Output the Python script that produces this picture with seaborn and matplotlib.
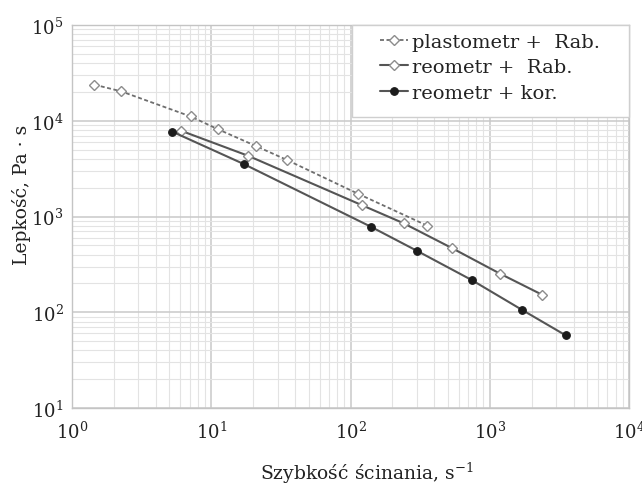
import matplotlib
matplotlib.use("Agg")
import matplotlib.pyplot as plt
import seaborn as sns
import numpy as np
from matplotlib.ticker import LogLocator, NullFormatter, LogFormatterMathtext
from matplotlib.patches import Rectangle

# ---- data ----
series_labels = ["plastometr +  Rab.", "reometr +  Rab.", "reometr + kor."]

shear_plast = [1.45, 2.25, 7.1, 11.2, 20.9, 35.0, 113.0, 356.0]
visc_plast = [23800, 20300, 11100, 8140, 5450, 3890, 1730, 802]

shear_reo_rab = [6.06, 18.3, 120.0, 241.0, 538.0, 1185.0, 2385.0]
visc_reo_rab = [7870, 4320, 1318, 849, 466, 253, 152]

shear_reo_kor = [5.25, 17.1, 140.0, 302.0, 742.0, 1713.0, 3510.0]
visc_reo_kor = [7690, 3535, 782, 436, 217, 105.5, 57.4]

x_label = "Szybkość ścinania, s$^{-1}$"
y_label = "Lepkość, Pa · s"

# ---- style ----
sns.set_theme(style="white")
plt.rcParams["font.family"] = ["DejaVu Serif", "DejaVu Sans"]
plt.rcParams["mathtext.fontset"] = "dejavuserif"

W, H = 642, 485
fig = plt.figure(figsize=(W / 100, H / 100), dpi=100)
ax_l, ax_r, ax_t, ax_b = 72, 629, 26, 409
ax = fig.add_axes([ax_l / W, 1 - ax_b / H, (ax_r - ax_l) / W, (ax_b - ax_t) / H])

line_dark = "#555555"
line_dash = "#6e6e6e"
diamond_edge = "#8c8c8c"

sns.lineplot(x=shear_plast, y=visc_plast, ax=ax, estimator=None, sort=False,
             color=line_dash, linewidth=1.3, linestyle=(0, (2.2, 1.4)),
             marker="D", markersize=5.2, markerfacecolor="white",
             markeredgecolor=diamond_edge, markeredgewidth=1.0,
             label=series_labels[0])
sns.lineplot(x=shear_reo_rab, y=visc_reo_rab, ax=ax, estimator=None, sort=False,
             color=line_dark, linewidth=1.5,
             marker="D", markersize=5.2, markerfacecolor="white",
             markeredgecolor=diamond_edge, markeredgewidth=1.0,
             label=series_labels[1])
sns.lineplot(x=shear_reo_kor, y=visc_reo_kor, ax=ax, estimator=None, sort=False,
             color=line_dark, linewidth=1.5,
             marker="o", markersize=5.5, markerfacecolor="#1c1c1c",
             markeredgecolor="#1c1c1c", markeredgewidth=0.8,
             label=series_labels[2])

ax.set_xscale("log")
ax.set_yscale("log")
ax.set_xlim(1, 1e4)
ax.set_ylim(10, 1e5)

for axis in (ax.xaxis, ax.yaxis):
    axis.set_major_locator(LogLocator(base=10, numticks=10))
    axis.set_minor_locator(LogLocator(base=10, subs=np.arange(2, 10), numticks=100))
    axis.set_minor_formatter(NullFormatter())
    axis.set_major_formatter(LogFormatterMathtext())

ax.grid(True, which="major", color="#c9c9c9", linewidth=1.1)
ax.grid(True, which="minor", color="#e3e3e3", linewidth=0.8)
ax.set_axisbelow(True)

for sp in ax.spines.values():
    sp.set_color("#c4c4c4")
    sp.set_linewidth(1.0)

ax.tick_params(which="major", direction="out", length=4, width=1.0,
               color="#c4c4c4", labelsize=13, labelcolor="#222222")
ax.tick_params(axis="y", which="major", pad=2)
ax.tick_params(axis="x", which="major", pad=5)
ax.tick_params(which="minor", length=0)

ax.set_xlabel(x_label, fontsize=13.5, color="#222222")
ax.xaxis.set_label_coords((367 - ax_l) / (ax_r - ax_l), (ax_b - 480) / (ax_b - ax_t))
ax.xaxis.label.set_va("baseline")
ax.set_ylabel(y_label, fontsize=13.5, color="#222222")
ax.yaxis.set_label_coords((22 - ax_l) / (ax_r - ax_l), (ax_b - 195) / (ax_b - ax_t))
ax.yaxis.label.set_va("center")
ax.yaxis.label.set_ha("center")

# legend box (white, covering grid)
bx0 = (352 - ax_l) / (ax_r - ax_l)
by0 = (ax_b - 118) / (ax_b - ax_t)
ax.add_patch(Rectangle((bx0, by0), 1 - bx0, 1 - by0, transform=ax.transAxes,
                       facecolor="white", edgecolor="#cfcfcf", linewidth=1.0,
                       zorder=3, clip_on=False))
leg = ax.legend(loc="upper left",
                bbox_to_anchor=((380 - ax_l) / (ax_r - ax_l), (ax_b - 33.5) / (ax_b - ax_t)),
                frameon=False, fontsize=14, handlelength=1.45, handletextpad=0.2,
                labelspacing=0.4, borderpad=0, borderaxespad=0)
leg.set_zorder(5)
for t in leg.get_texts():
    t.set_color("#222222")

fig.savefig("out.png", dpi=100)
